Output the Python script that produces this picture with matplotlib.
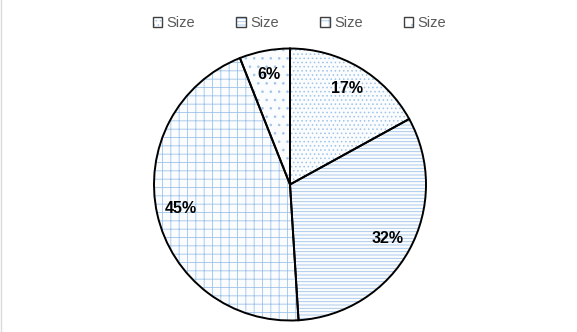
"""Pie chart of four 'Size' shares with light blue pattern fills."""

import matplotlib

matplotlib.use("Agg")
import matplotlib.pyplot as plt
from matplotlib.lines import Line2D
from matplotlib.patches import Patch
from matplotlib.legend_handler import HandlerTuple

labels = ["Size", "Size", "Size", "Size"]
shares = [17, 32, 45, 6]
hatches = ["....", "-----", "++", ".."]

HATCH_BLUE = "#9fc4e8"
plt.rcParams["font.family"] = ["Liberation Sans", "DejaVu Sans"]
plt.rcParams["hatch.linewidth"] = 0.6

fig = plt.figure(figsize=(5.77, 3.32), dpi=100)
ax = fig.add_axes([0, 0, 1, 1])

center = (290, 332 - 184.5)
radius = 136


def limit(axis):
    axis.axis("off")
    axis.set_xlim(0, 577)
    axis.set_ylim(0, 332)
    axis.set_aspect("equal")


# patterned fill: the hatch takes the edge colour, so the outline is drawn separately
fills, texts, pcts = ax.pie(
    shares,
    startangle=90,
    counterclock=False,
    center=center,
    radius=radius,
    autopct="%d%%",
    pctdistance=0.82,
    wedgeprops=dict(facecolor="#fbfcfe", edgecolor=HATCH_BLUE, linewidth=0),
    textprops=dict(fontsize=11.5, fontweight="bold", color="black", zorder=5),
    frame=True,
)
for wedge, hatch in zip(fills, hatches):
    wedge.set_hatch(hatch)

ax.pie(
    shares,
    startangle=90,
    counterclock=False,
    center=center,
    radius=radius,
    wedgeprops=dict(facecolor="none", edgecolor="black", linewidth=1.4),
    frame=True,
)
limit(ax)

handles = [
    (
        Patch(facecolor="white", edgecolor=HATCH_BLUE, hatch=h, linewidth=0),
        Patch(facecolor="none", edgecolor="#404040", linewidth=1.0),
    )
    for h in hatches
]
fig.legend(
    handles,
    labels,
    handler_map={tuple: HandlerTuple(ndivide=1, pad=0)},
    loc="center",
    bbox_to_anchor=(299.5 / 577, 1 - 23 / 332),
    ncol=4,
    frameon=False,
    fontsize=10.5,
    labelcolor="#595959",
    handlelength=0.65,
    handleheight=0.65,
    handletextpad=0.3,
    columnspacing=2.83,
)

fig.add_artist(Line2D([0.002, 0.002], [0, 1], color="#d9d9d9", linewidth=1))

fig.savefig("out.png", dpi=100)
